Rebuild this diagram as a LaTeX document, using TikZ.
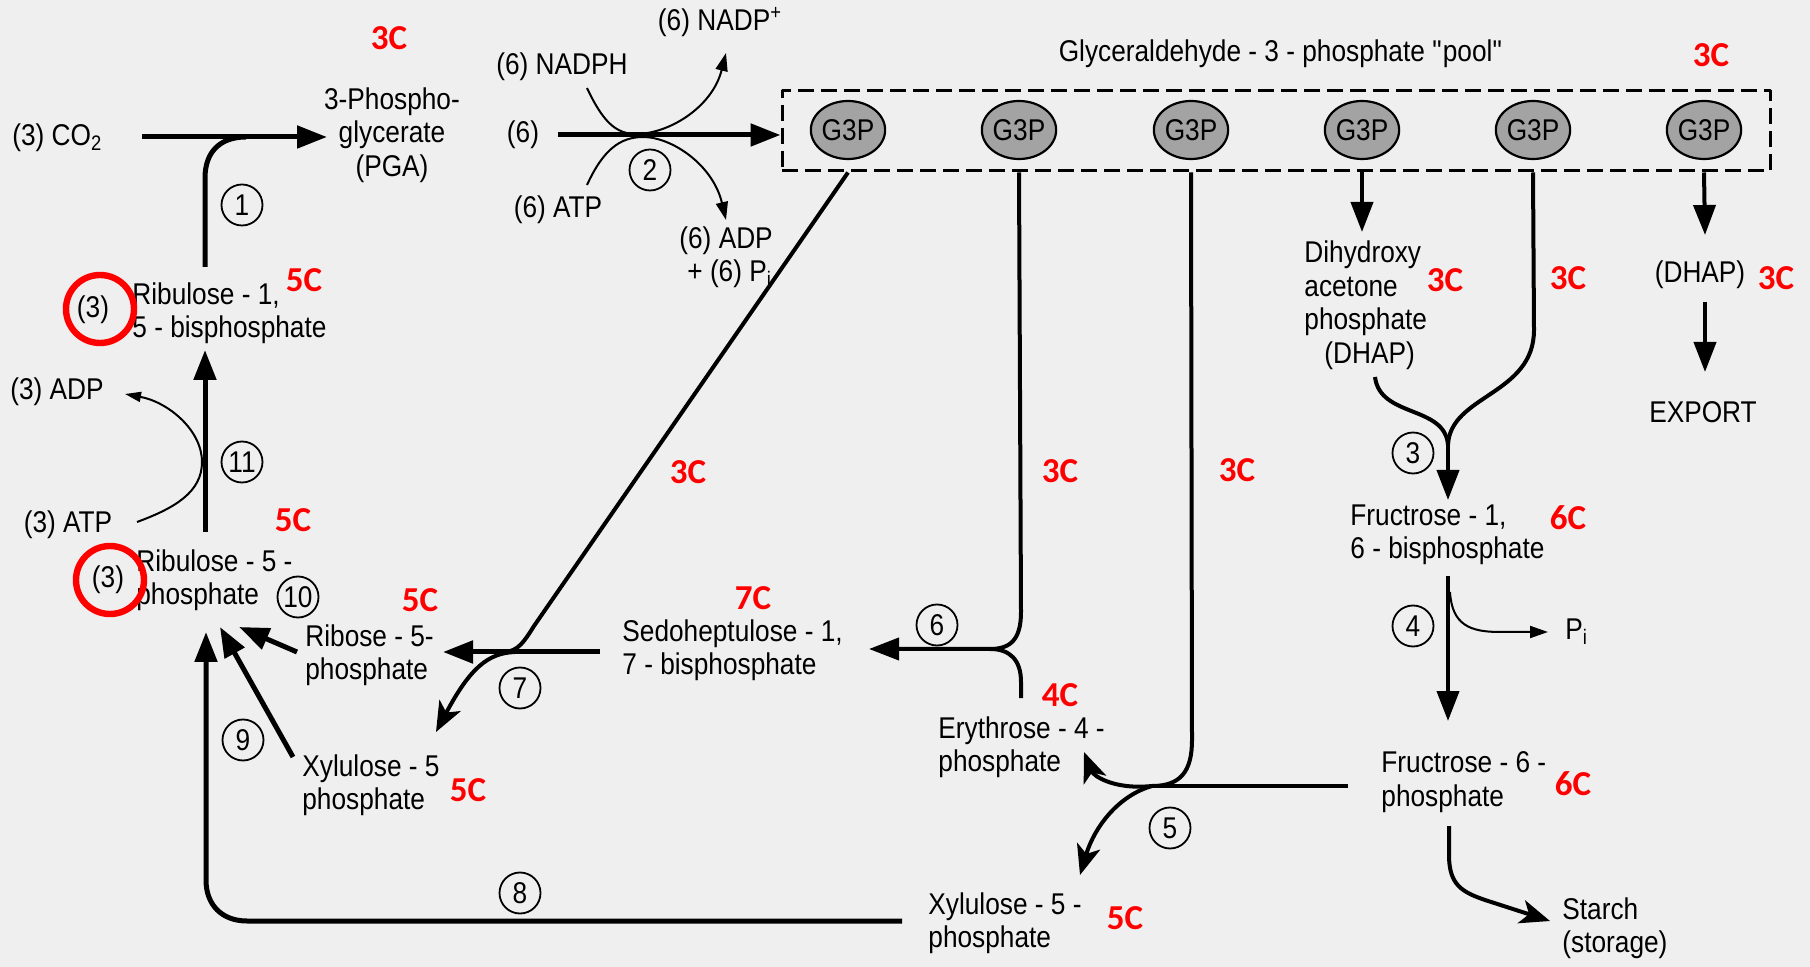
\documentclass[tikz,border=0pt]{standalone}
\usepackage{fontspec}
\setmainfont{Liberation Sans}[FakeStretch=0.875]
\newfontfamily\redfont{Carlito}
\newcommand\straightq{\XeTeXglyph\XeTeXcharglyph"22\relax}
\usetikzlibrary{arrows.meta,shapes.geometric,calc}
\definecolor{paper}{HTML}{EFEFEF}
\definecolor{gfill}{HTML}{A3A3A3}
\definecolor{redc}{HTML}{FF0000}
\begin{document}
\begin{tikzpicture}[x=0.5pt,y=-0.5pt,
 lab/.style={inner sep=0pt,align=left,font=\fontsize{15}{16.75}\selectfont},
 redlab/.style={inner sep=0pt,text=redc,font=\redfont\bfseries\fontsize{17.5}{20}\selectfont},
 ring/.style={circle,draw=redc,line width=3.2pt,minimum size=34pt,inner sep=0pt},
 num/.style={circle,draw,line width=0.9pt,minimum size=20.5pt,inner sep=0pt,font=\fontsize{15}{15}\selectfont},
 g3p/.style={ellipse,draw,line width=1.1pt,fill=gfill,minimum width=37pt,minimum height=29pt,inner sep=0pt,font=\fontsize{15}{15}\selectfont},
 pooled/.style={draw,line width=1.5pt,dash pattern=on 8pt off 3.5pt,minimum width=494pt,minimum height=40pt,inner sep=0pt},
 thk/.style={line width=2.5pt},
 med/.style={line width=2pt},
 thn/.style={line width=1pt},
 bigtip/.style={-{Triangle[length=15pt,width=11pt]}},
 branchtip/.style={-{Stealth[length=15pt,width=12pt,inset=4pt]}},
 smalltip/.style={-{Triangle[length=9pt,width=6pt]}},
 tinytip/.style={-{Triangle[length=8pt,width=5pt]}},
 line join=round]
\fill[paper] (0,0) rectangle (1810,967);
\useasboundingbox (0,0) rectangle (1810,967);

% ---------- text nodes ----------
\node[lab,anchor=west] (co2) at (12,138) {(3) CO\textsubscript{2}};
\node[lab,align=center] (pga) at (392,135) {3-Phospho-\\glycerate\\(PGA)};
\node[lab] (nadph) at (562,67) {(6) NADPH};
\node[lab] (nadp) at (720,22) {(6) NADP\textsuperscript{+}};
\node[lab] (six) at (523,135) {(6)};
\node[lab] (atp6) at (558,210) {(6) ATP};
\node[lab,anchor=west] (adp6) at (679,257) {(6) ADP\\\hspace*{4pt}+ (6) P\textsubscript{i}};
\node[lab,anchor=west] (ru15) at (132,313) {Ribulose - 1,\\5 - bisphosphate};
\node[lab] (n3a) at (93,310) {(3)};
\node[ring] (ringa) at (100,309) {};
\node[lab] (adp3) at (57,392) {(3) ADP};
\node[lab] (atp3) at (68,525) {(3) ATP};
\node[lab,anchor=west] (ru5p) at (136,580) {Ribulose - 5 -\\phosphate};
\node[lab] (n3b) at (108,580) {(3)};
\node[ring] (ringb) at (110,580) {};
\node[lab,anchor=west] (r5p) at (305,655) {Ribose - 5-\\phosphate};
\node[lab,anchor=west] (x5pa) at (302,785) {Xylulose - 5\\phosphate};
\node[lab,anchor=west] (sbp) at (622,650) {Sedoheptulose - 1,\\7 - bisphosphate};
\node[lab,anchor=west] (e4p) at (938,747) {Erythrose - 4 -\\phosphate};
\node[lab,anchor=west] (x5pb) at (928,923) {Xylulose - 5 -\\phosphate};
\node[lab] (title) at (1281,54) {Glyceraldehyde - 3 - phosphate \straightq pool\straightq};
\node[lab,anchor=west] (dhap) at (1304,305) {Dihydroxy\\acetone\\phosphate\\\hspace*{10pt}(DHAP)};
\node[lab] (dhap2) at (1700,275) {(DHAP)};
\node[lab] (export) at (1703,412) {EXPORT};
\node[lab,anchor=west] (fbp) at (1350,535) {Fructrose - 1,\\6 - bisphosphate};
\node[lab,anchor=west] (pi) at (1565,632) {P\textsubscript{i}};
\node[lab,anchor=west] (f6p) at (1381,782) {Fructrose - 6 -\\phosphate};
\node[lab,anchor=west] (starch) at (1562,928) {Starch\\(storage)};

% ---------- pool ----------
\node[pooled] (pool) at (1276,131) {};
\foreach \i/\x in {1/848,2/1019,3/1191,4/1362,5/1533,6/1704}
  \node[g3p] (g\i) at (\x,130) {G3P};

% ---------- red carbon labels ----------
\foreach \k/\p/\t in {1/{389,38}/3C,2/{1711,55}/3C,3/{304,280}/5C,4/{293,520}/5C,
  5/{420,600}/5C,6/{468,790}/5C,7/{688,472}/3C,8/{753,598}/7C,9/{1060,471}/3C,
  10/{1237,470}/3C,11/{1060,695}/4C,12/{1125,918}/5C,13/{1445,280}/3C,
  14/{1568,278}/3C,15/{1776,278}/3C,16/{1568,518}/6C,17/{1573,784}/6C}
  \node[redlab] (rc\k) at (\p) {\t};

% ---------- numbered steps ----------
\foreach \n/\p in {1/{242,205},2/{650,170},3/{1413,453},4/{1413,626},5/{1170,828},
  6/{937,625},7/{520,688},8/{520,893},9/{243,740},10/{298,597},11/{242,462}}
  \node[num] (s\n) at (\p) {\n};

% ---------- connector end points ----------
\coordinate (c1s) at (142,137);
\coordinate (c1e) at (327,137);
\coordinate (c1b) at (205,267);
\coordinate (c2s) at (558,135);
\coordinate (nph) at (587,88);
\coordinate (nph2) at (726,53);
\coordinate (atp2) at (587,185);
\coordinate (adp2) at (726,220);
\coordinate (r11b) at (205,532);
\coordinate (r11t) at (205,350);
\coordinate (a3s) at (137,522);
\coordinate (a3e) at (125,394);
\coordinate (r10t) at (206,632);
\coordinate (x5at) at (220,627);
\coordinate (x5as) at (293,757);
\coordinate (r5t) at (239,627);
\coordinate (r5s) at (297,652);
\coordinate (x5bs) at (902,921);
\coordinate (j7) at (505,652);
\coordinate (sbs) at (600,652);
\coordinate (r7t) at (443,652);
\coordinate (x7t) at (436,732);
\coordinate (j6) at (990,649);
\coordinate (r6t) at (869,649);
\coordinate (e6s) at (1021,698);
\coordinate (j5) at (1152,786);
\coordinate (f6s) at (1348,786);
\coordinate (e5t) at (1084,752);
\coordinate (x5t) at (1080,875);
\coordinate (d4t) at (1362,232);
\coordinate (dh3) at (1375,377);
\coordinate (j3) at (1448,445);
\coordinate (f3t) at (1448,500);
\coordinate (ex1) at (1705,235);
\coordinate (ex2s) at (1705,302);
\coordinate (ex2t) at (1705,372);
\coordinate (r4s) at (1448,576);
\coordinate (r4t) at (1448,721);
\coordinate (pis) at (1450,592);
\coordinate (pit) at (1548,632);
\coordinate (sts) at (1449,826);
\coordinate (stt) at (1550,921);

% ---------- reaction 1 ----------
\draw[thk,bigtip] (c1s) -- (c1e);
\draw[thk] (c1b) -- (205,178) .. controls +(0,-26) and +(-26,0) .. (246,137);

% ---------- reaction 2 ----------
\draw[thk,bigtip] (c2s) -- (c2s -| pool.west);
\draw[thn,smalltip] (nph) .. controls (603,122) and (616,134) .. (636,134) .. controls (668,134) and (712,108) .. (nph2);
\draw[thn,smalltip] (atp2) .. controls (603,150) and (620,137) .. (643,137) .. controls (672,137) and (713,165) .. (adp2);

% ---------- reaction 11 ----------
\draw[thk,bigtip] (r11b) -- (r11t);
\draw[thn,tinytip] (a3s) .. controls (175,508) and (202,492) .. (202,462) .. controls (202,430) and (168,402) .. (a3e);

% ---------- reactions 8, 9, 10 ----------
\draw[thk,bigtip] (x5bs) -- (247,921) .. controls (222,921) and (206,905) .. (206,880) -- (r10t);
\draw[thk,bigtip] (x5as) -- (x5at);
\draw[thk,bigtip] (r5s) -- (r5t);

% ---------- reaction 7 ----------
\draw[med] (g1 |- pool.south) -- (534,626) .. controls (524,642) and (518,651) .. (j7);
\draw[thk,bigtip] (sbs) -- (r7t);
\draw[med,branchtip] (515,652) .. controls (488,653) and (470,668) .. (x7t);

% ---------- reaction 6 ----------
\draw[med,bigtip] (g2 |- pool.south) -- (1021,612) .. controls (1021,640) and (1010,649) .. (j6) -- (r6t);
\draw[med] (e6s) -- (1021,682) .. controls (1021,660) and (1010,649) .. (j6);

% ---------- reaction 5 ----------
\draw[med] (g3 |- pool.south) -- (1192,740) .. controls (1192,772) and (1180,786) .. (j5);
\draw[med] (f6s) -- (j5);
\draw[med,branchtip] (j5) .. controls (1112,790) and (1093,775) .. (e5t);
\draw[med,branchtip] (j5) .. controls (1120,795) and (1095,825) .. (x5t);

% ---------- reaction 3 ----------
\draw[med,bigtip] (g4 |- pool.south) -- (d4t);
\draw[med] (dh3) .. controls (1380,418) and (1445,405) .. (j3);
\draw[med] (g5 |- pool.south) -- (1534,330) .. controls (1534,395) and (1450,395) .. (j3);
\draw[med,bigtip] (1448,440) -- (f3t);

% ---------- export ----------
\draw[med,bigtip] (g6 |- pool.south) -- (ex1);
\draw[med,bigtip] (ex2s) -- (ex2t);

% ---------- reaction 4 ----------
\draw[med,bigtip] (r4s) -- (r4t);
\draw[thn,smalltip] (pis) .. controls (1452,625) and (1470,632) .. (1500,632) -- (pit);

% ---------- starch ----------
\draw[med,branchtip] (sts) -- (1449,855) .. controls (1449,885) and (1462,892) .. (1485,900) -- (stt);
\end{tikzpicture}
\end{document}
